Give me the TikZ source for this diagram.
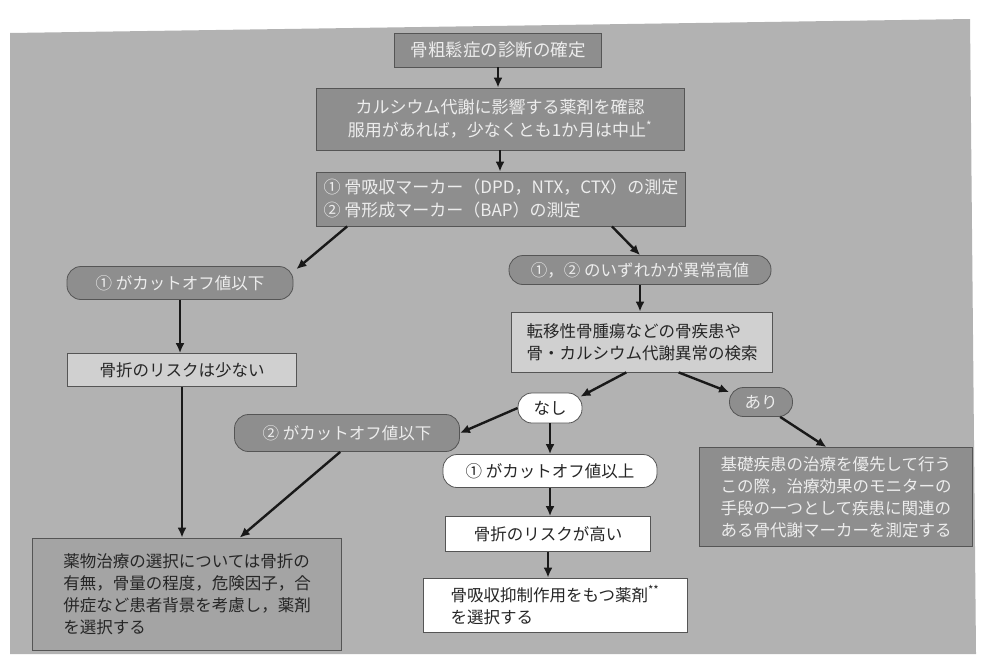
\documentclass[tikz,border=0pt]{standalone}
\usepackage{fontspec}
\setmainfont{Noto Sans CJK JP}
\usetikzlibrary{arrows.meta,calc}
\definecolor{bg}{HTML}{B2B2B2}
\definecolor{dark}{HTML}{8E8E8E}
\definecolor{mid}{HTML}{A4A4A4}
\definecolor{light}{HTML}{D0D0D0}
\definecolor{edge}{HTML}{555555}
\definecolor{ltxt}{HTML}{EDEDED}
\begin{document}
\begin{tikzpicture}[x=1pt,y=-1pt,
  font=\fontsize{16.5}{22}\selectfont,
  base/.style={draw=edge, line width=0.8pt, inner sep=0pt},
  darkbox/.style={base, fill=dark, text=ltxt},
  midbox/.style={base, fill=mid, text=black!85},
  lightbox/.style={base, fill=light, text=black!85},
  whitebox/.style={base, fill=white, text=black!85},
  pill/.style={rounded corners=14pt},
  arr/.style={line width=2.4pt, black!90, -{Latex[length=10pt,width=9pt]}}]
\useasboundingbox (0,0) rectangle (981,654);
\fill[white] (0,0) rectangle (981,654);
\fill[bg] (10,33) -- (970,19) -- (976,654) -- (10,654) -- cycle;

% nodes
\node[darkbox, minimum width=207pt, minimum height=34pt, font=\fontsize{17.5}{22}\selectfont] (n1) at (498,50) {骨粗鬆症の診断の確定};
\node[darkbox, minimum width=368pt, minimum height=62pt, align=center, font=\fontsize{17}{23}\selectfont] (n2) at (500,119) {カルシウム代謝に影響する薬剤を確認\\服用があれば，少なくとも1か月は中止\textsuperscript{*}};
\node[darkbox, minimum width=369pt, minimum height=54pt, align=left, font=\fontsize{17}{23}\selectfont] (n3) at (501,199) {① 骨吸収マーカー（DPD，NTX，CTX）の測定\\② 骨形成マーカー（BAP）の測定};
\node[darkbox, pill, minimum width=226pt, minimum height=33pt] (n4) at (180,283) {① がカットオフ値以下};
\node[darkbox, pill, minimum width=262pt, minimum height=29pt] (n5) at (640,270) {①，② のいずれかが異常高値};
\node[lightbox, minimum width=261pt, minimum height=60pt, align=left] (n6) at (642,342) {転移性骨腫瘍などの骨疾患や\\骨・カルシウム代謝異常の検索};
\node[lightbox, minimum width=229pt, minimum height=33pt] (n9) at (182,370) {骨折のリスクは少ない};
\node[whitebox, pill, minimum width=64pt, minimum height=30pt] (nashi) at (550,408) {なし};
\node[darkbox, pill, minimum width=63pt, minimum height=29pt] (ari) at (761,402) {あり};
\node[darkbox, pill, minimum width=225pt, minimum height=37pt] (n10) at (347,433) {② がカットオフ値以下};
\node[whitebox, pill, minimum width=214pt, minimum height=33pt] (n11) at (550,471) {① がカットオフ値以上};
\node[whitebox, minimum width=205pt, minimum height=35pt] (n12) at (548,534) {骨折のリスクが高い};
\node[whitebox, minimum width=264pt, minimum height=54pt, align=left] (n13) at (555,605) {骨吸収抑制作用をもつ薬剤\textsuperscript{**}\\を選択する\hspace{9em}};
\node[midbox, minimum width=309pt, minimum height=112pt, align=left] (n14) at (187,594) {薬物治療の選択については骨折の\\有無，骨量の程度，危険因子，合\\併症など患者背景を考慮し，薬剤\\を選択する};
\node[darkbox, minimum width=273pt, minimum height=99pt, align=left] (n15) at (836,497) {基礎疾患の治療を優先して行う\\この際，治療効果のモニターの\\手段の一つとして疾患に関連の\\ある骨代謝マーカーを測定する};

% connectors
\draw[arr] (n1.south) -- (n1.south |- n2.north);
\draw[arr] (n2.south) -- (n2.south |- n3.north);
\draw[arr] ($(n3.south west)!0.084!(n3.south east)$) -- ($(n4.north east)+(3,3)$);
\draw[arr] ($(n3.south west)!0.80!(n3.south east)$) -- (n5.north);
\draw[arr] (n5.south) -- (n5.south |- n6.north);
\draw[arr] ($(n6.south west)!0.44!(n6.south east)$) -- ($(nashi.north east)+(-2,4)$);
\draw[arr] ($(n6.south west)!0.64!(n6.south east)$) -- ($(ari.north west)+(0,5)$);
\draw[arr] (n4.south) -- (n4.south |- n9.north);
\draw[arr] (nashi.west) -- (n10.east);
\draw[arr] (nashi.south) -- (nashi.south |- n11.north);
\draw[arr] (n11.south) -- (n11.south |- n12.north);
\draw[arr] (n12.south) -- (n12.south |- n13.north);
\draw[arr] (n9.south) -- (n9.south |- n14.north);
\draw[arr] ($(n10.south west)!0.47!(n10.south east)$) -- ($(n14.north west)!0.67!(n14.north east)$);
\draw[arr] ($(ari.south west)!0.8!(ari.south east)$) -- ($(n15.north west)!0.465!(n15.north east)$);
\end{tikzpicture}
\end{document}
